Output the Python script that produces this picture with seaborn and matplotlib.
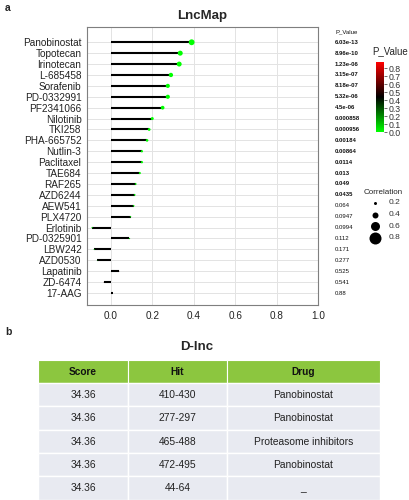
import numpy as np
import pandas as pd
import matplotlib
matplotlib.use("Agg")
import matplotlib.pyplot as plt
from matplotlib.colors import LinearSegmentedColormap, Normalize
from matplotlib.patches import Rectangle
from matplotlib.transforms import blended_transform_factory
import seaborn as sns

# ---------------- data ----------------
drugs = ["Panobinostat", "Topotecan", "Irinotecan", "L-685458", "Sorafenib",
         "PD-0332991", "PF2341066", "Nilotinib", "TKI258", "PHA-665752",
         "Nutlin-3", "Paclitaxel", "TAE684", "RAF265", "AZD6244", "AEW541",
         "PLX4720", "Erlotinib", "PD-0325901", "LBW242", "AZD0530",
         "Lapatinib", "ZD-6474", "17-AAG"]
correlation = [0.39, 0.335, 0.33, 0.29, 0.275, 0.275, 0.25, 0.20, 0.185, 0.175,
               0.15, 0.15, 0.14, 0.12, 0.115, 0.11, 0.095, -0.09, 0.09, -0.08,
               -0.065, 0.04, -0.035, 0.01]
p_values = [6.03e-13, 8.96e-10, 1.23e-06, 3.15e-07, 8.18e-07, 5.32e-06, 4.5e-06,
            0.000858, 0.000956, 0.00184, 0.00864, 0.0114, 0.013, 0.049, 0.0435,
            0.064, 0.0947, 0.0994, 0.112, 0.171, 0.277, 0.525, 0.541, 0.88]
p_labels = ["6.03e-13", "8.96e-10", "1.23e-06", "3.15e-07", "8.18e-07",
            "5.32e-06", "4.5e-06", "0.000858", "0.000956", "0.00184", "0.00864",
            "0.0114", "0.013", "0.049", "0.0435", "0.064", "0.0947", "0.0994",
            "0.112", "0.171", "0.277", "0.525", "0.541", "0.88"]
x_ticks = [0.0, 0.2, 0.4, 0.6, 0.8, 1.0]
cbar_ticks = [0.0, 0.1, 0.2, 0.3, 0.4, 0.5, 0.6, 0.7, 0.8]
size_legend = [0.2, 0.4, 0.6, 0.8]

table_cols = ["Score", "Hit", "Drug"]
table_score = ["34.36", "34.36", "34.36", "34.36", "34.36"]
table_hit = ["410-430", "277-297", "465-488", "472-495", "44-64"]
table_drug = ["Panobinostat", "Panobinostat", "Proteasome inhibitors",
              "Panobinostat", "_"]

# ---------------- style ----------------
sns.set_style("white")
plt.rcParams["font.family"] = ["Liberation Sans", "DejaVu Sans"]

W, H = 409, 500
fig = plt.figure(figsize=(W / 100, H / 100), dpi=100)


def fbox(x0, y0, x1, y1):
    return [x0 / W, 1 - y1 / H, (x1 - x0) / W, (y1 - y0) / H]


# ---------------- panel a ----------------
ax = fig.add_axes(fbox(87, 27, 318, 305))
df = pd.DataFrame({"drug": drugs, "corr": correlation, "p": p_values})
df["abs"] = df["corr"].abs()

cmap = LinearSegmentedColormap.from_list(
    "pv", [(0.0, "#00ff00"), (0.5, "#000000"), (1.0, "#ff0000")])
norm = Normalize(0, 0.88)

n = len(drugs)
ypos = np.arange(n)
for y in ypos:
    ax.axhline(y, color="#e3e3e3", lw=0.7, zorder=0)
for xv in x_ticks:
    ax.axvline(xv, color="#e3e3e3", lw=0.7, zorder=0)

ax.hlines(ypos, 0, df["corr"], color="black", lw=1.5, zorder=2)
size_map = {v: 116.6 * v * v for v in df["abs"].unique()}
sns.scatterplot(data=df, x="corr", y="drug", hue="p", hue_norm=norm,
                palette=cmap, size="abs", sizes=size_map, legend=False,
                linewidth=0, ax=ax, zorder=3)

ax.set_xlim(-0.115, 1.0)
ax.set_ylim(n - 1 + 1.1, -1.4)
ax.set_xticks(x_ticks)
ax.set_xticklabels([f"{v:.1f}" for v in x_ticks])
ax.set_yticks(ypos)
ax.set_yticklabels(drugs)
ax.set_xlabel("")
ax.set_ylabel("")
ax.tick_params(axis="both", labelsize=7.2, length=2, width=0.6, pad=2,
               direction="out", colors="#7f7f7f", labelcolor="#222222")
for s in ax.spines.values():
    s.set_color("#7f7f7f")
    s.set_linewidth(0.8)

ax.set_title("LncMap", fontsize=9.5, fontweight="bold", pad=6)

# p-value text column
tr = blended_transform_factory(ax.transAxes, ax.transData)
xcol = (335 - 87) / (318 - 87)
ax.text(xcol, -1, "P_Value", transform=tr, fontsize=4.3, va="center",
        ha="left", color="#111111", clip_on=False)
for i, (lab, p) in enumerate(zip(p_labels, p_values)):
    ax.text(xcol, i, lab, transform=tr, fontsize=4.3, va="center", ha="left",
            fontweight="bold" if p < 0.05 else "normal", color="#111111",
            clip_on=False)

# colorbar
cax = fig.add_axes(fbox(376, 62, 384, 132))
sm = plt.cm.ScalarMappable(cmap=cmap, norm=norm)
cb = fig.colorbar(sm, cax=cax, ticks=cbar_ticks)
cb.outline.set_visible(False)
cb.ax.tick_params(labelsize=6.3, length=2, width=0.5, pad=1, colors="#333333")
cb.ax.set_yticklabels([f"{v:.1f}" for v in cbar_ticks])
fig.text(372 / W, 1 - 51 / H, "P_Value", fontsize=7, ha="left", va="center")

# size legend
lax = fig.add_axes(fbox(360, 185, 409, 245))
lax.set_xlim(360, 409)
lax.set_ylim(245, 185)
lax.axis("off")
lax.text(364, 192, "Correlation", fontsize=5.8, ha="left", va="center")
for k, v in enumerate(size_legend):
    yy = 203 + k * 11.5
    lax.scatter([375], [yy], s=116.6 * v * v, color="black", linewidth=0)
    lax.text(389, yy, f"{v:.1f}", fontsize=6, ha="left", va="center",
             color="#333333")

fig.text(5 / W, 1 - 8 / H, "a", fontsize=7.5, fontweight="bold",
         ha="left", va="center")

# ---------------- panel b ----------------
fig.text(5 / W, 1 - 332 / H, "b", fontsize=7.5, fontweight="bold",
         ha="left", va="center")
fig.text(197 / W, 1 - 347 / H, "D-lnc", fontsize=9.5, fontweight="bold",
         ha="center", va="center")

tax = fig.add_axes(fbox(0, 355, 409, 500))
tax.set_xlim(0, 409)
tax.set_ylim(500, 355)
tax.axis("off")

col_edges = [38, 128, 227, 380]
header_top, header_bot = 360, 383
row_h = 23.3
green = "#8cc63f"
body = "#e8eaf1"

for c in range(3):
    x0, x1 = col_edges[c], col_edges[c + 1]
    tax.add_patch(Rectangle((x0, header_top), x1 - x0, header_bot - header_top,
                            facecolor=green, edgecolor="white", lw=0.8))
    tax.text((x0 + x1) / 2, (header_top + header_bot) / 2 + 0.5, table_cols[c],
             fontsize=7.3, fontweight="bold", ha="center", va="center",
             color="#111111")

columns = [table_score, table_hit, table_drug]
for r in range(len(table_score)):
    y0 = header_bot + r * row_h
    for c in range(3):
        x0, x1 = col_edges[c], col_edges[c + 1]
        tax.add_patch(Rectangle((x0, y0), x1 - x0, row_h, facecolor=body,
                                edgecolor="white", lw=1.0))
        tax.text((x0 + x1) / 2, y0 + row_h / 2 + 0.5, columns[c][r],
                 fontsize=7.4, ha="center", va="center", color="#222222")

fig.savefig("out.png", dpi=100)
